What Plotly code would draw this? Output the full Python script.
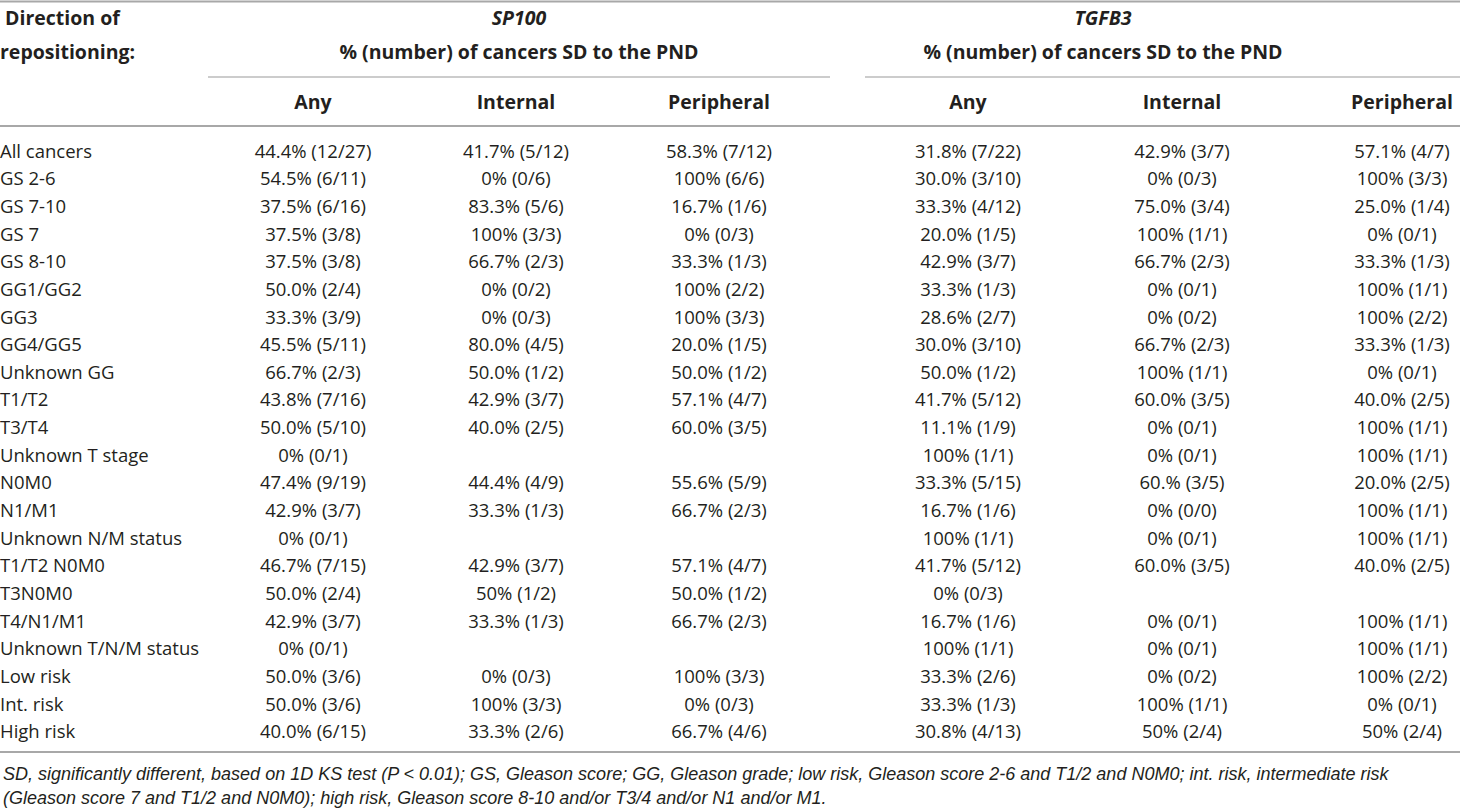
import plotly.graph_objects as go

row_labels = [
    "All cancers", "GS 2-6", "GS 7-10", "GS 7", "GS 8-10", "GG1/GG2", "GG3",
    "GG4/GG5", "Unknown GG", "T1/T2", "T3/T4", "Unknown T stage", "N0M0",
    "N1/M1", "Unknown N/M status", "T1/T2 N0M0", "T3N0M0", "T4/N1/M1",
    "Unknown T/N/M status", "Low risk", "Int. risk", "High risk",
]

sp100_any = [
    "44.4% (12/27)", "54.5% (6/11)", "37.5% (6/16)", "37.5% (3/8)", "37.5% (3/8)",
    "50.0% (2/4)", "33.3% (3/9)", "45.5% (5/11)", "66.7% (2/3)", "43.8% (7/16)",
    "50.0% (5/10)", "0% (0/1)", "47.4% (9/19)", "42.9% (3/7)", "0% (0/1)",
    "46.7% (7/15)", "50.0% (2/4)", "42.9% (3/7)", "0% (0/1)", "50.0% (3/6)",
    "50.0% (3/6)", "40.0% (6/15)",
]
sp100_internal = [
    "41.7% (5/12)", "0% (0/6)", "83.3% (5/6)", "100% (3/3)", "66.7% (2/3)",
    "0% (0/2)", "0% (0/3)", "80.0% (4/5)", "50.0% (1/2)", "42.9% (3/7)",
    "40.0% (2/5)", "", "44.4% (4/9)", "33.3% (1/3)", "",
    "42.9% (3/7)", "50% (1/2)", "33.3% (1/3)", "", "0% (0/3)",
    "100% (3/3)", "33.3% (2/6)",
]
sp100_peripheral = [
    "58.3% (7/12)", "100% (6/6)", "16.7% (1/6)", "0% (0/3)", "33.3% (1/3)",
    "100% (2/2)", "100% (3/3)", "20.0% (1/5)", "50.0% (1/2)", "57.1% (4/7)",
    "60.0% (3/5)", "", "55.6% (5/9)", "66.7% (2/3)", "",
    "57.1% (4/7)", "50.0% (1/2)", "66.7% (2/3)", "", "100% (3/3)",
    "0% (0/3)", "66.7% (4/6)",
]
tgfb3_any = [
    "31.8% (7/22)", "30.0% (3/10)", "33.3% (4/12)", "20.0% (1/5)", "42.9% (3/7)",
    "33.3% (1/3)", "28.6% (2/7)", "30.0% (3/10)", "50.0% (1/2)", "41.7% (5/12)",
    "11.1% (1/9)", "100% (1/1)", "33.3% (5/15)", "16.7% (1/6)", "100% (1/1)",
    "41.7% (5/12)", "0% (0/3)", "16.7% (1/6)", "100% (1/1)", "33.3% (2/6)",
    "33.3% (1/3)", "30.8% (4/13)",
]
tgfb3_internal = [
    "42.9% (3/7)", "0% (0/3)", "75.0% (3/4)", "100% (1/1)", "66.7% (2/3)",
    "0% (0/1)", "0% (0/2)", "66.7% (2/3)", "100% (1/1)", "60.0% (3/5)",
    "0% (0/1)", "0% (0/1)", "60.% (3/5)", "0% (0/0)", "0% (0/1)",
    "60.0% (3/5)", "", "0% (0/1)", "0% (0/1)", "0% (0/2)",
    "100% (1/1)", "50% (2/4)",
]
tgfb3_peripheral = [
    "57.1% (4/7)", "100% (3/3)", "25.0% (1/4)", "0% (0/1)", "33.3% (1/3)",
    "100% (1/1)", "100% (2/2)", "33.3% (1/3)", "0% (0/1)", "40.0% (2/5)",
    "100% (1/1)", "100% (1/1)", "20.0% (2/5)", "100% (1/1)", "100% (1/1)",
    "40.0% (2/5)", "", "100% (1/1)", "100% (1/1)", "100% (2/2)",
    "0% (0/1)", "50% (2/4)",
]

sub_headers = ["Any", "Internal", "Peripheral"]
group_names = ["SP100", "TGFB3"]
group_subtitle = "% (number) of cancers SD to the PND"
stub_header = ["Direction of", "repositioning:"]
footnote_lines = [
    "SD, significantly different, based on 1D KS test (P < 0.01); GS, Gleason score; GG, Gleason grade; "
    "low risk, Gleason score 2-6 and T1/2 and N0M0; int. risk, intermediate risk",
    "(Gleason score 7 and T1/2 and N0M0); high risk, Gleason score 8-10 and/or T3/4 and/or N1 and/or M1.",
]

# layout (pixel-like coordinates on the axes)
W, H = 1460, 808
TEXT = "#231f20"
RULE = "#a8a8a8"
FONT = "Open Sans"
BODY = 18.5
HEAD = 19.5
col_x = [313, 516, 719, 968, 1182, 1402]
group_x = [519, 1103]
group_span = [(208, 830), (865, 1460)]
row_y0, row_step = 153, 27.65

columns = [sp100_any, sp100_internal, sp100_peripheral, tgfb3_any, tgfb3_internal, tgfb3_peripheral]
row_y = [row_y0 + i * row_step for i in range(len(row_labels))]

fig = go.Figure()


def add_text(xs, ys, texts, position="middle center", size=BODY, family=FONT):
    fig.add_trace(
        go.Scatter(
            x=xs,
            y=ys,
            text=texts,
            mode="text",
            textposition=position,
            textfont={"family": family, "size": size, "color": TEXT},
            hoverinfo="skip",
            showlegend=False,
            cliponaxis=False,
        )
    )


# stub column
add_text([0] * len(row_labels), row_y, row_labels, position="middle right")
for x, values in zip(col_x, columns):
    add_text([x] * len(values), row_y, values)

# headers
add_text([5, 0], [20, 54], [f"<b>{t}</b>" for t in stub_header], position="middle right", size=HEAD)
add_text(group_x, [20, 20], [f"<b><i>{g}</i></b>" for g in group_names], size=HEAD)
add_text(group_x, [54, 54], [f"<b>{group_subtitle}</b>"] * 2, size=HEAD)
add_text(col_x, [104] * 6, [f"<b>{s}</b>" for s in sub_headers * 2], size=HEAD)

# footnote
add_text([3, 3], [775, 799], [f"<i>{t}</i>" for t in footnote_lines], position="middle right",
         size=18, family="Liberation Sans")

shapes = []
for y in (1.5, 126, 752):
    shapes.append({"type": "line", "x0": 0, "x1": W, "y0": y, "y1": y,
                   "xref": "x", "yref": "y", "line": {"color": RULE, "width": 2}})
for x0, x1 in group_span:
    shapes.append({"type": "line", "x0": x0, "x1": x1, "y0": 77, "y1": 77,
                   "xref": "x", "yref": "y", "line": {"color": "#9a9a9a", "width": 1.2}})

fig.update_layout(
    width=W,
    height=H,
    margin={"l": 0, "r": 0, "t": 0, "b": 0},
    paper_bgcolor="white",
    plot_bgcolor="white",
    shapes=shapes,
    xaxis={"range": [0, W], "visible": False, "fixedrange": True},
    yaxis={"range": [H, 0], "visible": False, "fixedrange": True},
)

# the page body has a default 8px margin; drop it so the table sits at the window corner
fig.write_html(
    "out.html",
    config={"displayModeBar": False},
    post_script="document.body.style.margin = '0';",
)
